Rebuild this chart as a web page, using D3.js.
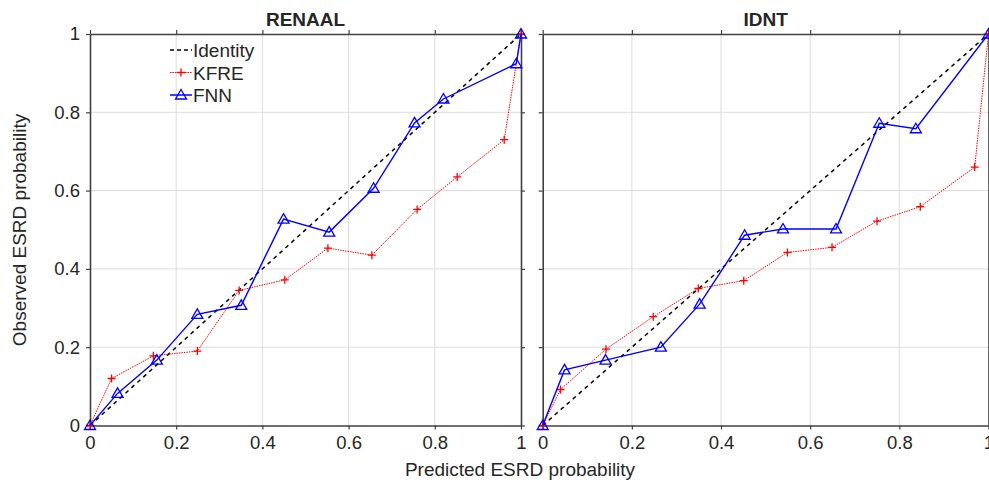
<!DOCTYPE html>
<html>
<head>
<meta charset="utf-8">
<script src="https://cdn.jsdelivr.net/npm/d3@7"></script>
<style>
  body { margin: 0; background: #fff; }
  text { font-family: "Liberation Sans", Arial, sans-serif; fill: #262626; }
</style>
</head>
<body>
<div id="chart"></div>
<script>
var svgWidth = 989;
var svgHeight = 483;

// tick values shared by both axes
var tickValues = [0, 0.2, 0.4, 0.6, 0.8, 1];
var tickLabels = ["0", "0.2", "0.4", "0.6", "0.8", "1"];
var legendNames = ["Identity", "KFRE", "FNN"];

// RENAAL
var renaalKfreX = [0, 0.050, 0.147, 0.249, 0.346, 0.452, 0.552, 0.654, 0.759, 0.852, 0.961, 1];
var renaalKfreY = [0, 0.120, 0.178, 0.190, 0.345, 0.372, 0.453, 0.435, 0.552, 0.635, 0.730, 1];
var renaalFnnX = [0, 0.064, 0.155, 0.249, 0.351, 0.449, 0.555, 0.658, 0.753, 0.820, 0.989, 1];
var renaalFnnY = [0, 0.082, 0.167, 0.284, 0.307, 0.527, 0.494, 0.606, 0.773, 0.834, 0.924, 1];

// IDNT
var idntKfreX = [0, 0.040, 0.142, 0.248, 0.349, 0.451, 0.549, 0.649, 0.750, 0.847, 0.969, 1];
var idntKfreY = [0, 0.092, 0.195, 0.278, 0.350, 0.370, 0.442, 0.455, 0.522, 0.559, 0.660, 1];
var idntFnnX = [0, 0.049, 0.141, 0.265, 0.352, 0.453, 0.539, 0.658, 0.755, 0.837, 1];
var idntFnnY = [0, 0.142, 0.167, 0.200, 0.310, 0.486, 0.502, 0.502, 0.772, 0.758, 1];

var identity = [0, 1];

var panels = [
  { title: "RENAAL", left: 90, right: 521, kx: renaalKfreX, ky: renaalKfreY, fx: renaalFnnX, fy: renaalFnnY, yLabels: true, legend: true },
  { title: "IDNT", left: 542.7, right: 988.5, kx: idntKfreX, ky: idntKfreY, fx: idntFnnX, fy: idntFnnY, yLabels: false, legend: false }
];

var plotTop = 34, plotBottom = 425.5;
var axisColor = "#404040";

var svg = d3.select("#chart").append("svg")
  .attr("width", svgWidth)
  .attr("height", svgHeight);

function zip(xs, ys) {
  return xs.map(function(x, i) { return [x, ys[i]]; });
}

function drawTriangle(g, x, y) {
  g.append("path")
    .attr("d", `M${x},${y - 5.5}L${x + 5.5},${y + 4}L${x - 5.5},${y + 4}Z`)
    .attr("fill", "none")
    .attr("stroke", "#0000ff")
    .attr("stroke-width", 1.3);
}

function drawPlus(g, x, y) {
  g.append("path")
    .attr("d", `M${x - 4},${y}H${x + 4}M${x},${y - 4}V${y + 4}`)
    .attr("stroke", "#ff0000")
    .attr("stroke-width", 1.3);
}

panels.forEach(function(p) {
  var x = d3.scaleLinear().domain([0, 1]).range([p.left, p.right]);
  var y = d3.scaleLinear().domain([0, 1]).range([plotBottom, plotTop]);
  var g = svg.append("g");

  // grid
  g.selectAll(".gx").data(tickValues.slice(1, -1)).enter().append("line")
    .attr("x1", d => x(d)).attr("x2", d => x(d))
    .attr("y1", plotTop).attr("y2", plotBottom)
    .attr("stroke", "#dcdcdc").attr("stroke-width", 1);
  g.selectAll(".gy").data(tickValues.slice(1, -1)).enter().append("line")
    .attr("y1", d => y(d)).attr("y2", d => y(d))
    .attr("x1", p.left).attr("x2", p.right)
    .attr("stroke", "#dcdcdc").attr("stroke-width", 1);

  // axes (box with outward ticks on all sides)
  var fmt = function(d) { return tickLabels[tickValues.indexOf(d)]; };
  var ax = [
    { a: d3.axisBottom(x).tickValues(tickValues).tickFormat(fmt), t: `translate(0,${plotBottom})` },
    { a: d3.axisTop(x).tickValues(tickValues).tickFormat(""), t: `translate(0,${plotTop})` },
    { a: d3.axisLeft(y).tickValues(tickValues).tickFormat(p.yLabels ? fmt : ""), t: `translate(${p.left},0)` },
    { a: d3.axisRight(y).tickValues(tickValues).tickFormat(""), t: `translate(${p.right},0)` }
  ];
  ax.forEach(function(o) {
    var ag = g.append("g").attr("transform", o.t)
      .call(o.a.tickSizeInner(4).tickSizeOuter(0).tickPadding(6));
    ag.select(".domain").attr("stroke", axisColor).attr("stroke-width", 1.6);
    ag.selectAll(".tick line").attr("stroke", axisColor).attr("stroke-width", 1.2);
    ag.selectAll(".tick text")
      .style("font-size", "18.5px")
      .style("font-family", "Liberation Sans, Arial, sans-serif")
      .attr("fill", "#262626");
  });

  var line = d3.line().x(d => x(d[0])).y(d => y(d[1]));

  // identity
  g.append("path").datum(zip(identity, identity))
    .attr("d", line).attr("fill", "none")
    .attr("stroke", "#000").attr("stroke-width", 1.5)
    .attr("stroke-dasharray", "4,4");

  // KFRE
  var kData = zip(p.kx, p.ky);
  g.append("path").datum(kData)
    .attr("d", line).attr("fill", "none")
    .attr("stroke", "#ff0000").attr("stroke-width", 1)
    .attr("stroke-dasharray", "1.5,1");
  kData.forEach(function(d) { drawPlus(g, x(d[0]), y(d[1])); });

  // FNN
  var fData = zip(p.fx, p.fy);
  g.append("path").datum(fData)
    .attr("d", line).attr("fill", "none")
    .attr("stroke", "#0000ff").attr("stroke-width", 1.4);
  fData.forEach(function(d) { drawTriangle(g, x(d[0]), y(d[1])); });

  // title
  g.append("text")
    .attr("x", (p.left + p.right) / 2).attr("y", 26)
    .attr("text-anchor", "middle")
    .style("font-size", "19px").style("font-weight", "bold")
    .attr("fill", "#000")
    .text(p.title);

  if (p.legend) {
    var lg = g.append("g");
    legendNames.forEach(function(name, i) {
      var ly = 50 + i * 22.5;
      var l = lg.append("line")
        .attr("x1", 170).attr("x2", 192).attr("y1", ly).attr("y2", ly)
        .attr("stroke-width", i === 1 ? 1 : 1.5);
      if (i === 0) l.attr("stroke", "#000").attr("stroke-dasharray", "4,3");
      if (i === 1) { l.attr("stroke", "#ff0000").attr("stroke-dasharray", "1.5,1"); drawPlus(lg, 181, ly); }
      if (i === 2) { l.attr("stroke", "#0000ff"); drawTriangle(lg, 181, ly); }
      lg.append("text")
        .attr("x", 193).attr("y", ly + 7)
        .style("font-size", "19px")
        .attr("fill", "#000")
        .text(name);
    });
  }
});

// axis labels
svg.append("text")
  .attr("x", 520).attr("y", 476)
  .attr("text-anchor", "middle")
  .style("font-size", "19px")
  .text("Predicted ESRD probability");

svg.append("text")
  .attr("transform", `translate(26, 230) rotate(-90)`)
  .attr("text-anchor", "middle")
  .style("font-size", "19px")
  .text("Observed ESRD probability");
</script>
</body>
</html>
